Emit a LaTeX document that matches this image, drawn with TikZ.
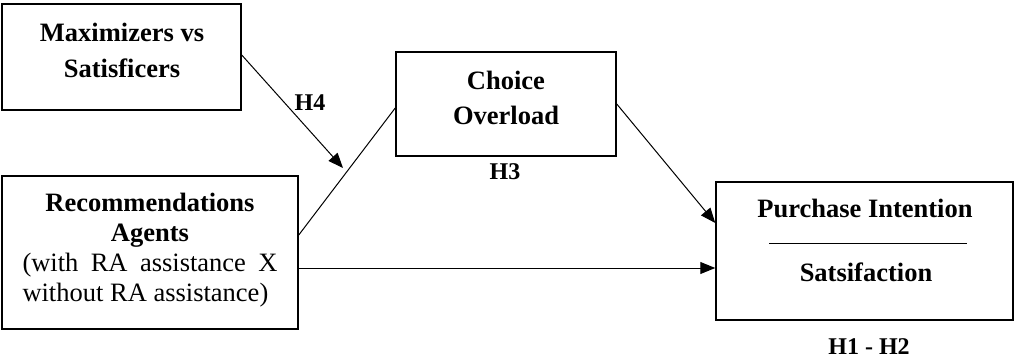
\documentclass[tikz,border=0pt]{standalone}
\usepackage{fontspec}
\setmainfont{Liberation Serif}
\usetikzlibrary{arrows.meta}
\tikzset{
  box/.style={draw, line width=1.5pt, inner sep=0pt},
  txt/.style={align=center, inner sep=0pt, font=\fontsize{26.5}{30}\selectfont},
  hyp/.style={inner sep=0pt, font=\fontsize{24}{28}\selectfont\bfseries},
  link/.style={line width=1pt},
  arr/.style={link, -{Triangle[length=15pt,width=12pt]}}
}
\begin{document}
\begin{tikzpicture}[x=1pt, y=-1pt]
\useasboundingbox (0,0) rectangle (1015,361);

% boxes
\node[box, minimum width=239pt, minimum height=106pt] (max) at (121.5,57) {};
\node[box, minimum width=296pt, minimum height=153pt] (rec) at (150,252.5) {};
\node[box, minimum width=220pt, minimum height=104pt] (cho) at (506,104) {};
\node[box, minimum width=297pt, minimum height=138pt] (pur) at (864.5,251) {};

% box texts
\node[txt, font=\fontsize{26.5}{36}\selectfont\bfseries] (maxt) at (122,50) {Maximizers vs\\Satisficers};
\node[txt] (rect) at (150,250) {\textbf{Recommendations}\\\textbf{Agents}\\
  \makebox[255pt][s]{(with RA assistance X}\\\makebox[255pt][l]{without RA assistance)}};
\node[txt, font=\fontsize{26.5}{35}\selectfont\bfseries] (chot) at (506,97.5) {Choice\\Overload};
\node[txt, font=\fontsize{26.5}{30}\selectfont\bfseries] (purt1) at (865,208) {Purchase Intention};
\node[txt, font=\fontsize{26.5}{30}\selectfont\bfseries] (purt2) at (866,272) {Satsifaction};
\coordinate (ruleL) at (769,243);
\coordinate (ruleR) at (967,243);
\draw[link] (ruleL) -- (ruleR);

% hypothesis labels
\node[hyp] (h4) at (310,103) {H4};
\node[hyp] (h3) at (505,172) {H3};
\node[hyp] (h12) at (869,347) {H1 - H2};

% connectors
\coordinate (h4tip) at (343,168);
\draw[arr] ([yshift=2pt]max.east) -- (h4tip);
\draw[link] ([yshift=17.5pt]rec.east) -- ([yshift=-4pt]cho.west);
\draw[arr] (cho.east) -- ([yshift=28pt]pur.west);
\draw[arr] ([yshift=-15.5pt]rec.east) -- ([yshift=-15.5pt]rec.east -| pur.west);
\end{tikzpicture}
\end{document}
